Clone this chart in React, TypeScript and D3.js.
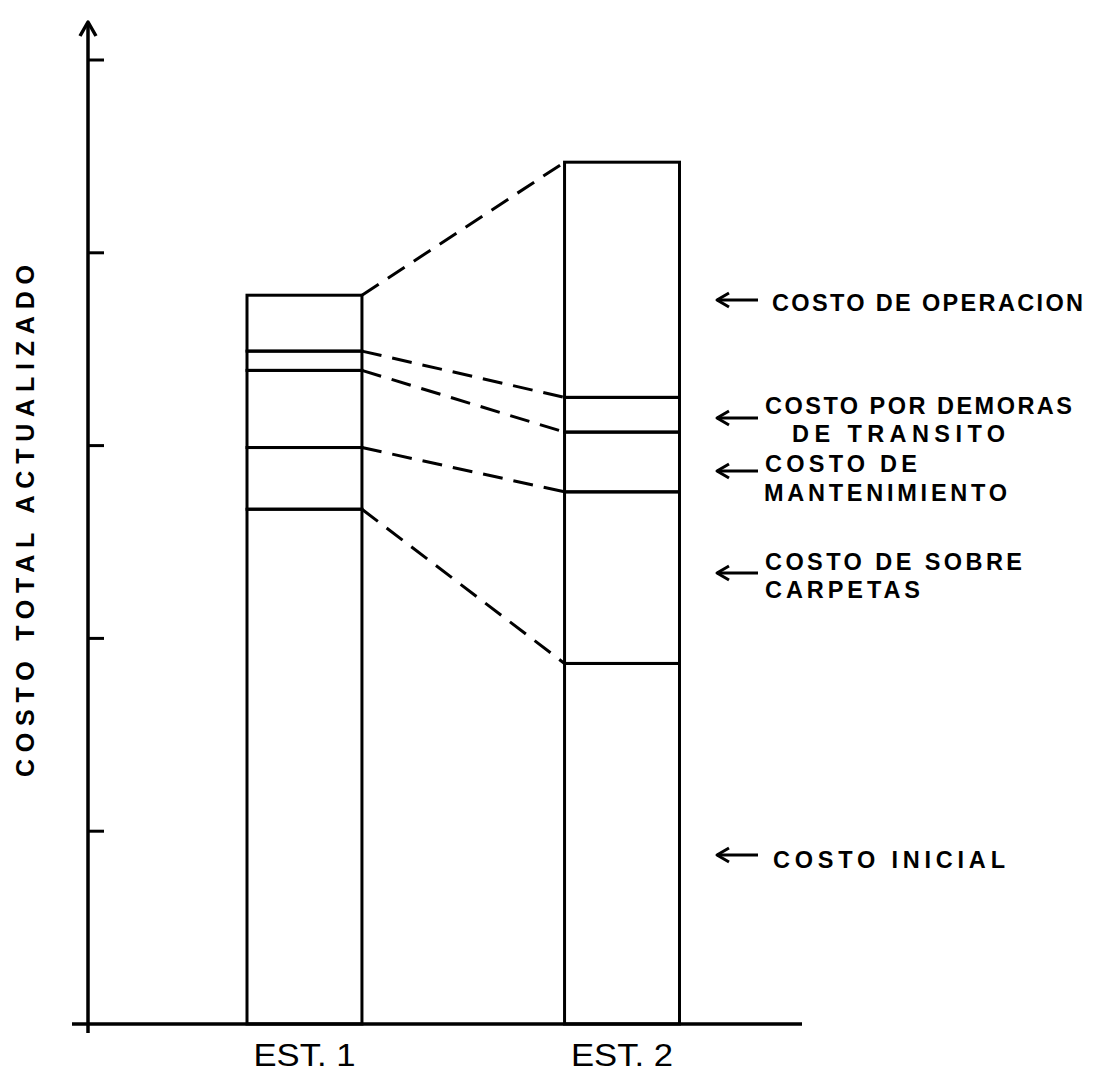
import * as d3 from 'd3'

// estudios comparados
const categories = ['EST. 1', 'EST. 2']

// componentes del costo, de abajo hacia arriba
const components = [
  'Costo inicial',
  'Costo de sobre carpetas',
  'Costo de mantenimiento',
  'Costo por demoras de transito',
  'Costo de operacion',
]

const est1Values = [2.67, 0.32, 0.4, 0.1, 0.29]
const est2Values = [1.87, 0.89, 0.31, 0.18, 1.22]

const yTicks = [1, 2, 3, 4, 5]

const yAxisLabel = 'COSTO TOTAL ACTUALIZADO'

// rotulos a la derecha (lineas de texto por componente)
const componentLabels = [
  ['COSTO INICIAL'],
  ['COSTO DE SOBRE', 'CARPETAS'],
  ['COSTO DE', 'MANTENIMIENTO'],
  ['COSTO POR DEMORAS', 'DE TRANSITO'],
  ['COSTO DE OPERACION'],
]

type LabelLayout = {
  arrowY: number
  lines: { x: number; y: number; len: number }[]
}

// layout of the annotations, in pixels
const labelLayout: LabelLayout[] = [
  { arrowY: 855, lines: [{ x: 773, y: 859, len: 232 }] },
  { arrowY: 573, lines: [{ x: 765, y: 561, len: 257 }, { x: 765, y: 589, len: 155 }] },
  { arrowY: 471, lines: [{ x: 765, y: 463, len: 152 }, { x: 764, y: 492, len: 243 }] },
  { arrowY: 418, lines: [{ x: 765, y: 405, len: 307 }, { x: 792, y: 433, len: 213 }] },
  { arrowY: 300, lines: [{ x: 772, y: 302, len: 311 }] },
]

const cumulative = (values: number[]) => {
  let acc = 0
  return values.map((v) => {
    const start = acc
    acc += v
    return { start, end: acc }
  })
}

export default function App() {
  const width = 1095
  const height = 1077
  const axisX = 88
  const baseY = 1024
  const stroke = '#000'
  const sw = 3

  const yScale = d3.scaleLinear().domain([0, 5]).range([baseY, 60])
  const xScale = d3
    .scaleBand<string>()
    .domain(categories)
    .range([247, 247 + 317.5 + 115])
    .paddingInner(0.638)
    .paddingOuter(0)
  const bw = xScale.bandwidth()

  const stacks = [cumulative(est1Values), cumulative(est2Values)]
  const x1 = (xScale(categories[0]) ?? 0) + bw
  const x2 = xScale(categories[1]) ?? 0

  const font = '"Liberation Sans", Arial, sans-serif'

  return (
    <svg
      width={width}
      height={height}
      viewBox={`0 0 ${width} ${height}`}
      style={{ position: 'absolute', left: 0, top: 0, background: '#fff' }}
    >
      <rect width={width} height={height} fill="#fff" />

      {/* ejes */}
      <line x1={axisX} x2={axisX} y1={1033} y2={24} stroke={stroke} strokeWidth={3.5} />
      <path
        d={`M${axisX - 8},${36} L${axisX},${22} L${axisX + 8},${36}`}
        fill="none"
        stroke={stroke}
        strokeWidth={3.5}
        strokeLinejoin="round"
      />
      <line x1={72} x2={802} y1={baseY} y2={baseY} stroke={stroke} strokeWidth={3.5} />
      {yTicks.map((t) => (
        <line
          key={`tick-${t}`}
          x1={axisX}
          x2={axisX + 16}
          y1={yScale(t)}
          y2={yScale(t)}
          stroke={stroke}
          strokeWidth={sw}
        />
      ))}

      {/* barras apiladas */}
      {categories.map((cat, i) => {
        const x = xScale(cat) ?? 0
        return (
          <g key={cat}>
            {stacks[i].map((seg, k) => (
              <rect
                key={`${cat}-${k}`}
                x={x}
                y={yScale(seg.end)}
                width={bw}
                height={yScale(seg.start) - yScale(seg.end)}
                fill="none"
                stroke={stroke}
                strokeWidth={sw}
              />
            ))}
            <text
              x={x + bw / 2}
              y={1066}
              textAnchor="middle"
              fontFamily={font}
              fontSize={31}
              textLength={102}
              lengthAdjust="spacingAndGlyphs"
            >
              {cat}
            </text>
          </g>
        )
      })}

      {/* lineas de union */}
      {components.map((c, k) => (
        <line
          key={`dash-${c}`}
          x1={x1}
          y1={yScale(stacks[0][k].end)}
          x2={x2}
          y2={yScale(stacks[1][k].end)}
          stroke={stroke}
          strokeWidth={sw}
          strokeDasharray="20 11"
        />
      ))}

      {/* rotulos */}
      {componentLabels.map((lines, k) => {
        const lay = labelLayout[k]
        return (
          <g key={`lab-${k}`}>
            <line x1={717} x2={758} y1={lay.arrowY} y2={lay.arrowY} stroke={stroke} strokeWidth={sw} />
            <path
              d={`M${729},${lay.arrowY - 7} L${717},${lay.arrowY} L${729},${lay.arrowY + 7}`}
              fill="none"
              stroke={stroke}
              strokeWidth={sw}
              strokeLinejoin="round"
            />
            {lines.map((line, j) => (
              <text
                key={line}
                x={lay.lines[j].x}
                y={lay.lines[j].y + 9}
                fontFamily={font}
                fontWeight="bold"
                fontSize={23.5}
                textLength={lay.lines[j].len}
                lengthAdjust="spacing"
              >
                {line}
              </text>
            ))}
          </g>
        )
      })}

      <text
        transform={`translate(34, 521) rotate(-90)`}
        textAnchor="middle"
        fontFamily={font}
        fontWeight="bold"
        fontSize={25}
        textLength={512}
        lengthAdjust="spacing"
      >
        {yAxisLabel}
      </text>
    </svg>
  )
}
